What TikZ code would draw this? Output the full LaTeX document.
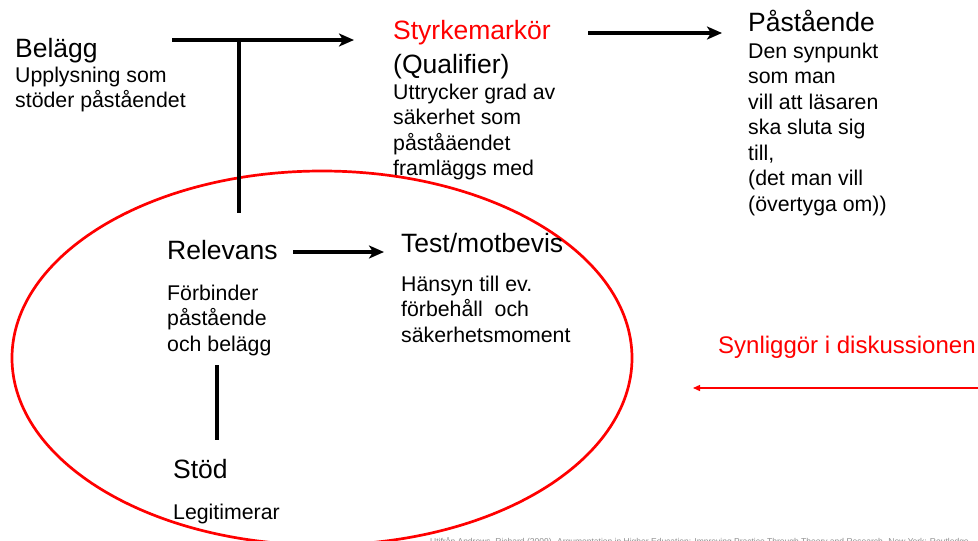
\documentclass[tikz,border=0pt]{standalone}
\usepackage{fontspec}
\setmainfont{Liberation Sans}
\usetikzlibrary{arrows.meta}
\definecolor{redc}{RGB}{255,0,0}
\tikzset{
  head/.style={anchor=base west, inner sep=0pt, font=\fontsize{26.5}{30}\selectfont},
  body/.style={anchor=base west, inner sep=0pt, align=left, font=\fontsize{21.3}{25.5}\selectfont},
  thickarrow/.style={line width=4pt, -{Stealth[length=15pt,width=13pt,inset=4pt]}},
  thickline/.style={line width=4pt},
  redarrow/.style={draw=redc, line width=1.3pt, -{Triangle[length=7pt,width=6pt]}},
}
\begin{document}
\begin{tikzpicture}[x=1pt,y=-1pt]
\useasboundingbox (0,0) rectangle (978,541);
% ellipse
\draw[redc, line width=2.7pt] (322,358) ellipse [x radius=310, y radius=187];
% texts (body nodes are placed at the baseline of their last line)
\node[head] (belagg) at (15,57) {Belägg};
\node[body] (belaggtxt) at (15,107.5) {Upplysning som\\stöder påståendet};
\node[head, text=redc] (styrke) at (393,39) {Styrkemarkör};
\node[head] (qual) at (393,73) {(Qualifier)};
\node[body] (qualtxt) at (393,175.5) {Uttrycker grad av\\säkerhet som\\påståäendet\\framläggs med};
\node[head] (pastaende) at (748,31) {Påstående};
\node[body] (pasttxt) at (748,211) {Den synpunkt\\som man\\vill att läsaren\\ska sluta sig\\till,\\(det man vill\\(övertyga om))};
\node[head] (relevans) at (167,259) {Relevans};
\node[body] (reltxt) at (167,351) {Förbinder\\påstående\\och belägg};
\node[head] (test) at (401,252) {Test/motbevis};
\node[body] (testtxt) at (401,342) {Hänsyn till ev.\\förbehåll\ \ och\\säkerhetsmoment};
\node[head] (stod) at (173,478) {Stöd};
\node[body] (legit) at (173,519) {Legitimerar};
\node[anchor=base west, inner sep=0pt, text=redc, font=\fontsize{24}{28}\selectfont] (synlig) at (718,353) {Synliggör i diskussionen};
\node[anchor=base west, inner sep=0pt, text=black!45, font=\fontsize{8.5}{10}\selectfont] (ref) at (430,544.5) {Utifrån Andrews, Richard (2009). Argumentation in Higher Education: Improving Practice Through Theory and Research. New York: Routledge};
% connectors
\coordinate (tl) at (172,40);
\coordinate (tr) at (354,40);
\coordinate (tj) at (239,40);
\coordinate (tf) at (239,213);
\draw[thickarrow] (tl) -- (tr);
\draw[thickline] (tj) -- (tf);
\coordinate (a2s) at (588,33);
\coordinate (a2e) at (722,33);
\draw[thickarrow] (a2s) -- (a2e);
\coordinate (a3s) at (293,252);
\coordinate (a3e) at (384,252);
\draw[thickarrow] (a3s) -- (a3e);
\coordinate (l4s) at (217,365);
\coordinate (l4e) at (217,440);
\draw[thickline] (l4s) -- (l4e);
\coordinate (rs) at (978,388);
\coordinate (re) at (693,388);
\draw[redarrow] (rs) -- (re);
\end{tikzpicture}
\end{document}
